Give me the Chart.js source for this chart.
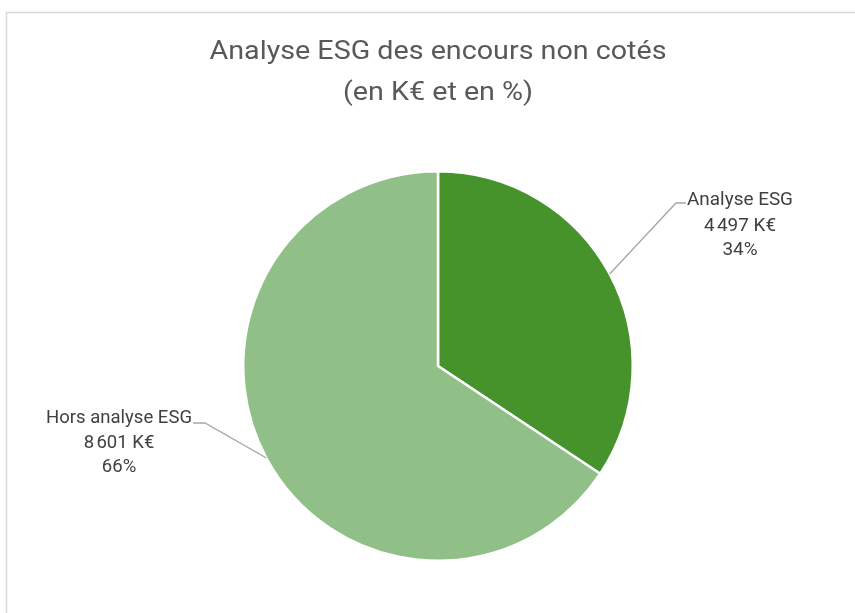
<!DOCTYPE html>
<html><head><meta charset="utf-8">
<script src="https://cdn.jsdelivr.net/npm/chart.js@4/dist/chart.umd.min.js"></script>
<style>html,body{margin:0;padding:0;background:#fff}#wrap{width:855px;height:613px;position:relative}</style>
</head><body><div id="wrap"><canvas id="c" width="855" height="613"></canvas></div>
<script>
const titleLines = ["Analyse ESG des encours non cotés", "(en K€ et en %)"];
const categories = ["Analyse ESG", "Hors analyse ESG"];
const valuesKEUR = [4497, 8601];
const percentLabels = ["34%", "66%"];
const colors = ["#46922b", "#90c087"];

function fmt(v){ return String(v).replace(/\B(?=(\d{3})+(?!\d))/g, "\u202F") + " K€"; }

const FONT = "Roboto, 'Liberation Sans', sans-serif";

function drawScaledLines(ctx, lines, cx, ys, size, color, targetW){
  ctx.save();
  ctx.font = size + "px " + FONT;
  ctx.fillStyle = color;
  ctx.textAlign = "center";
  ctx.textBaseline = "middle";
  const w = ctx.measureText(lines[0]).width;
  const sx = targetW / w;
  lines.forEach((t,i)=>{
    ctx.save();
    ctx.translate(cx, ys[i]);
    ctx.scale(sx, 1);
    ctx.fillText(t, 0, 0);
    ctx.restore();
  });
  ctx.restore();
}

const decor = {
  id: "decor",
  beforeDraw(chart){
    const ctx = chart.ctx;
    ctx.save();
    ctx.fillStyle = "#fff";
    ctx.fillRect(0,0,chart.width,chart.height);
    ctx.strokeStyle = "#d9d9d9";
    ctx.lineWidth = 1.5;
    ctx.strokeRect(6.5, 12.5, 870, 640);
    ctx.restore();
  },
  afterDraw(chart){
    const ctx = chart.ctx;
    drawScaledLines(ctx, titleLines, 438, [52, 93], 26, "#595959", 457);
    const meta = chart.getDatasetMeta(0);
    const labelCfg = [
      {cx: 740, ys: [200, 226, 250], elbow: [686, 203], knee: [676, 203], w: 106},
      {cx: 119, ys: [418, 443, 467], elbow: [193, 423], knee: [205, 423], w: 146}
    ];
    meta.data.forEach((arc, i)=>{
      const p = arc.getProps(["x","y","startAngle","endAngle","outerRadius"], true);
      const mid = (p.startAngle + p.endAngle)/2;
      const ex = p.x + Math.cos(mid)*p.outerRadius;
      const ey = p.y + Math.sin(mid)*p.outerRadius;
      const L = labelCfg[i];
      ctx.save();
      ctx.strokeStyle = "#a6a6a6";
      ctx.lineWidth = 1.3;
      ctx.beginPath();
      ctx.moveTo(L.elbow[0], L.elbow[1]);
      ctx.lineTo(L.knee[0], L.knee[1]);
      ctx.lineTo(ex, ey);
      ctx.stroke();
      ctx.restore();
      drawScaledLines(ctx, [categories[i], fmt(valuesKEUR[i]), percentLabels[i]], L.cx, L.ys, 18, "#404040", L.w);
    });
  }
};

new Chart(document.getElementById("c"), {
  type: "pie",
  data: {
    labels: categories,
    datasets: [{
      data: valuesKEUR,
      backgroundColor: colors,
      borderColor: "#ffffff",
      borderWidth: 2.5
    }]
  },
  options: {
    responsive: false,
    animation: false,
    layout: { padding: { top: 170, bottom: 51, left: 242, right: 221 } },
    plugins: { legend: { display: false }, title: { display: false }, tooltip: { enabled: false } }
  },
  plugins: [decor]
});
</script></body></html>
